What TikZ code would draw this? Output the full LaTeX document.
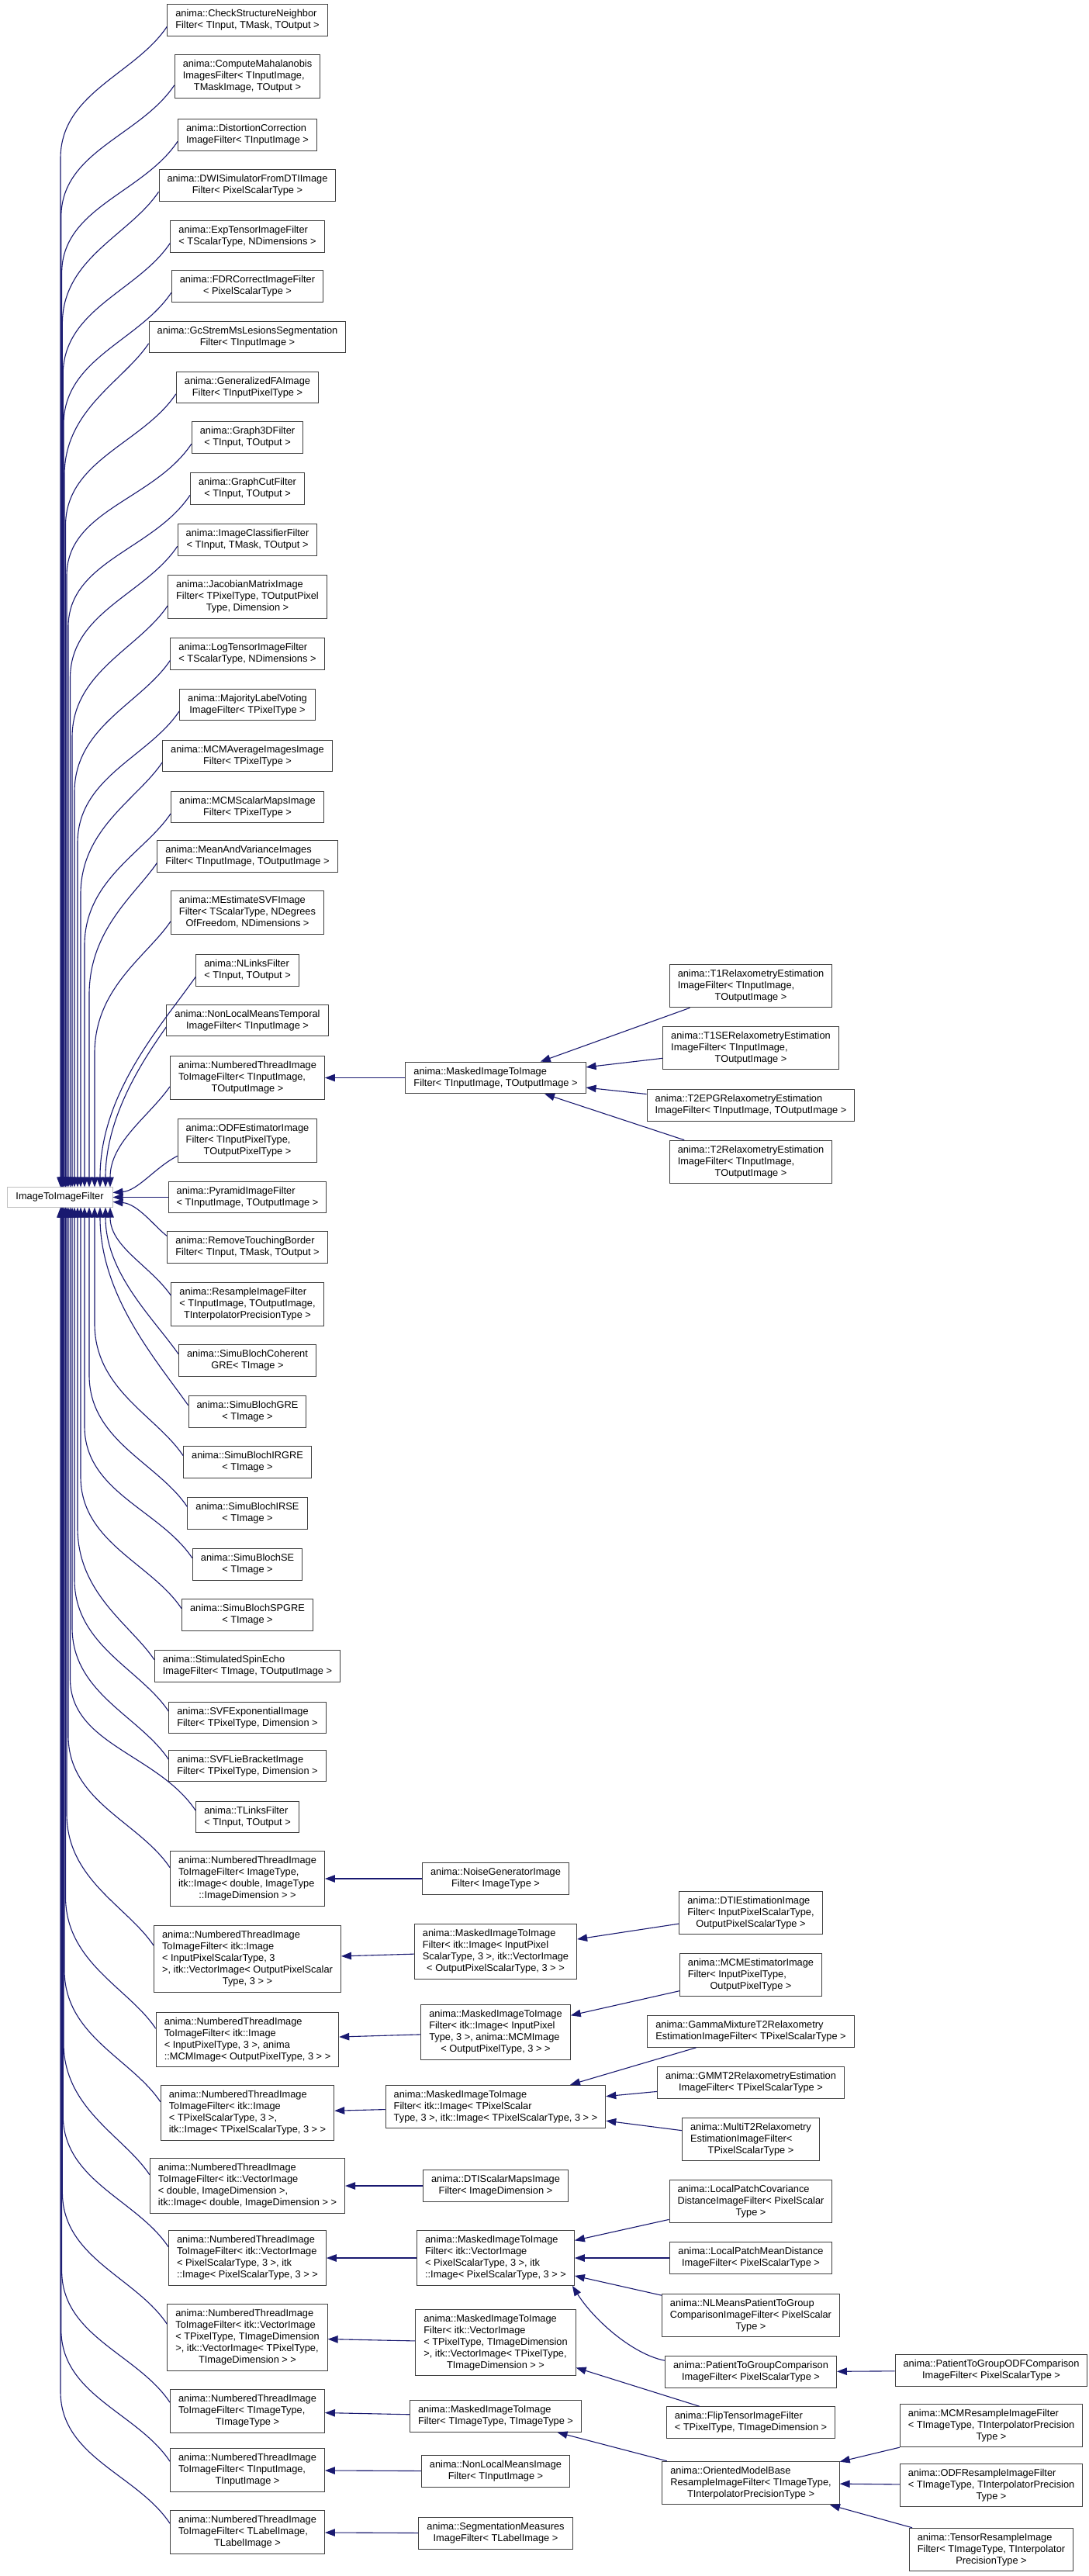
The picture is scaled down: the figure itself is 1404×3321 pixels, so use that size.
\documentclass[tikz,border=0pt]{standalone}
\usepackage{fontspec}
\setmainfont{Liberation Sans}
\usetikzlibrary{arrows.meta,calc}
\definecolor{edgec}{HTML}{191970}
\definecolor{boxc}{HTML}{404040}
\definecolor{rootc}{HTML}{BFBFBF}
\newcommand{\nodefont}{\fontsize{12.8pt}{15pt}\selectfont}
\newcommand{\lab}[2]{\begin{tabular}{@{}l@{}}#1\\\multicolumn{1}{@{}c@{}}{#2}\end{tabular}}
\tikzset{
 box/.style={draw=boxc, line width=1pt, fill=white, inner xsep=10.5pt, inner ysep=5.3pt, font=\nodefont},
 rootbox/.style={box, draw=rootc, minimum width=136pt, minimum height=26pt},
 inh/.style={draw=edgec, line width=1.1pt, {Triangle[length=13pt,width=9.5pt]}-}
}
\newcommand{\upnear}[2]{\draw[inh] let \p1=($(#1.west)!0.4!(#1.south west)$), \p2=(#2,1530.5), \n1={\x1-\x2}, \n2={\y1-\y2} in (\p2) .. controls (\x2,{\y2+0.45*\n2}) and ({\x1-0.35*\n1},{\y1-0.5*min(\n1,\n2)}) .. (\p1);}
\newcommand{\upfar}[2]{\draw[inh] let \p1=($(#1.west)!0.4!(#1.south west)$), \p2=(#2,1530.5), \n1={\x1-\x2} in (\p2) -- (\x2,{\y1-170pt}) .. controls (\x2,{\y1-85pt}) and ({\x1-0.3*\n1},{\y1-0.45*\n1}) .. (\p1);}
\newcommand{\downnear}[2]{\draw[inh] let \p1=($(#1.west)!0.4!(#1.north west)$), \p2=(#2,1556.5), \n1={\x1-\x2}, \n2={\y2-\y1} in (\p2) .. controls (\x2,{\y2-0.45*\n2}) and ({\x1-0.35*\n1},{\y1+0.5*min(\n1,\n2)}) .. (\p1);}
\newcommand{\downfar}[2]{\draw[inh] let \p1=($(#1.west)!0.4!(#1.north west)$), \p2=(#2,1556.5), \n1={\x1-\x2} in (\p2) -- (\x2,{\y1+170pt}) .. controls (\x2,{\y1+85pt}) and ({\x1-0.3*\n1},{\y1+0.45*\n1}) .. (\p1);}
\begin{document}
\begin{tikzpicture}[x=1pt,y=-1pt]
\useasboundingbox (0,0) rectangle (1404,3321);
\fill[white] (0,0) rectangle (1404,3321);
% root
\node[rootbox] (root) at (77,1543.5) {ImageToImageFilter};
% column 2
\node[box] (c1) at (319,26) {\lab{anima::CheckStructureNeighbor}{Filter< TInput, TMask, TOutput >}};
\node[box] (c2) at (319,98.5) {\lab{anima::ComputeMahalanobis\\ImagesFilter< TInputImage,}{TMaskImage, TOutput >}};
\node[box] (c3) at (319,174) {\lab{anima::DistortionCorrection}{ImageFilter< TInputImage >}};
\node[box] (c4) at (319,239) {\lab{anima::DWISimulatorFromDTIImage}{Filter< PixelScalarType >}};
\node[box] (c5) at (319,305) {\lab{anima::ExpTensorImageFilter}{< TScalarType, NDimensions >}};
\node[box] (c6) at (319,369) {\lab{anima::FDRCorrectImageFilter}{< PixelScalarType >}};
\node[box] (c7) at (319,434.5) {\lab{anima::GcStremMsLesionsSegmentation}{Filter< TInputImage >}};
\node[box] (c8) at (319,499.5) {\lab{anima::GeneralizedFAImage}{Filter< TInputPixelType >}};
\node[box] (c9) at (319,564) {\lab{anima::Graph3DFilter}{< TInput, TOutput >}};
\node[box] (c10) at (319,630) {\lab{anima::GraphCutFilter}{< TInput, TOutput >}};
\node[box] (c11) at (319,696) {\lab{anima::ImageClassifierFilter}{< TInput, TMask, TOutput >}};
\node[box] (c12) at (319,769.5) {\lab{anima::JacobianMatrixImage\\Filter< TPixelType, TOutputPixel}{Type, Dimension >}};
\node[box] (c13) at (319,843) {\lab{anima::LogTensorImageFilter}{< TScalarType, NDimensions >}};
\node[box] (c14) at (319,908.5) {\lab{anima::MajorityLabelVoting}{ImageFilter< TPixelType >}};
\node[box] (c15) at (319,974.5) {\lab{anima::MCMAverageImagesImage}{Filter< TPixelType >}};
\node[box] (c16) at (319,1040.5) {\lab{anima::MCMScalarMapsImage}{Filter< TPixelType >}};
\node[box] (c17) at (319,1104) {\lab{anima::MeanAndVarianceImages}{Filter< TInputImage, TOutputImage >}};
\node[box] (c18) at (319,1176.5) {\lab{anima::MEstimateSVFImage\\Filter< TScalarType, NDegrees}{OfFreedom, NDimensions >}};
\node[box] (c19) at (319,1251) {\lab{anima::NLinksFilter}{< TInput, TOutput >}};
\node[box] (c20) at (319,1315.5) {\lab{anima::NonLocalMeansTemporal}{ImageFilter< TInputImage >}};
\node[box] (c21) at (319,1389.5) {\lab{anima::NumberedThreadImage\\ToImageFilter< TInputImage,}{TOutputImage >}};
\node[box] (c22) at (319,1470.5) {\lab{anima::ODFEstimatorImage\\Filter< TInputPixelType,}{TOutputPixelType >}};
\node[box] (c23) at (319,1543.5) {\lab{anima::PyramidImageFilter}{< TInputImage, TOutputImage >}};
\node[box] (c24) at (319,1608) {\lab{anima::RemoveTouchingBorder}{Filter< TInput, TMask, TOutput >}};
\node[box] (c25) at (319,1681.5) {\lab{anima::ResampleImageFilter\\< TInputImage, TOutputImage,}{TInterpolatorPrecisionType >}};
\node[box] (c26) at (319,1754) {\lab{anima::SimuBlochCoherent}{GRE< TImage >}};
\node[box] (c27) at (319,1820) {\lab{anima::SimuBlochGRE}{< TImage >}};
\node[box] (c28) at (319,1885) {\lab{anima::SimuBlochIRGRE}{< TImage >}};
\node[box] (c29) at (319,1951) {\lab{anima::SimuBlochIRSE}{< TImage >}};
\node[box] (c30) at (319,2017) {\lab{anima::SimuBlochSE}{< TImage >}};
\node[box] (c31) at (319,2082) {\lab{anima::SimuBlochSPGRE}{< TImage >}};
\node[box] (c32) at (319,2148) {\lab{anima::StimulatedSpinEcho}{ImageFilter< TImage, TOutputImage >}};
\node[box] (c33) at (319,2214.5) {\lab{anima::SVFExponentialImage}{Filter< TPixelType, Dimension >}};
\node[box] (c34) at (319,2276.5) {\lab{anima::SVFLieBracketImage}{Filter< TPixelType, Dimension >}};
\node[box] (c35) at (319,2342.5) {\lab{anima::TLinksFilter}{< TInput, TOutput >}};
\node[box] (c36) at (319,2422) {\lab{anima::NumberedThreadImage\\ToImageFilter< ImageType,\\itk::Image< double, ImageType}{::ImageDimension > >}};
\node[box] (c37) at (319,2525.5) {\lab{anima::NumberedThreadImage\\ToImageFilter< itk::Image\\< InputPixelScalarType, 3\\ >, itk::VectorImage< OutputPixelScalar}{Type, 3 > >}};
\node[box] (c38) at (319,2629.5) {\lab{anima::NumberedThreadImage\\ToImageFilter< itk::Image\\< InputPixelType, 3 >, anima}{::MCMImage< OutputPixelType, 3 > >}};
\node[box] (c39) at (319,2724) {\lab{anima::NumberedThreadImage\\ToImageFilter< itk::Image\\< TPixelScalarType, 3 >,}{itk::Image< TPixelScalarType, 3 > >}};
\node[box] (c40) at (319,2818) {\lab{anima::NumberedThreadImage\\ToImageFilter< itk::VectorImage\\< double, ImageDimension >,}{itk::Image< double, ImageDimension > >}};
\node[box] (c41) at (319,2911) {\lab{anima::NumberedThreadImage\\ToImageFilter< itk::VectorImage\\< PixelScalarType, 3 >, itk}{::Image< PixelScalarType, 3 > >}};
\node[box] (c42) at (319,3013.5) {\lab{anima::NumberedThreadImage\\ToImageFilter< itk::VectorImage\\< TPixelType, TImageDimension\\ >, itk::VectorImage< TPixelType,}{TImageDimension > >}};
\node[box] (c43) at (319,3108.5) {\lab{anima::NumberedThreadImage\\ToImageFilter< TImageType,}{TImageType >}};
\node[box] (c44) at (319,3184.5) {\lab{anima::NumberedThreadImage\\ToImageFilter< TInputImage,}{TInputImage >}};
\node[box] (c45) at (319,3264.5) {\lab{anima::NumberedThreadImage\\ToImageFilter< TLabelImage,}{TLabelImage >}};
% column 3
\node[box] (m1) at (639,1389.5) {\lab{anima::MaskedImageToImage}{Filter< TInputImage, TOutputImage >}};
\node[box] (noise) at (639,2422) {\lab{anima::NoiseGeneratorImage}{Filter< ImageType >}};
\node[box] (m2) at (639,2516) {\lab{anima::MaskedImageToImage\\Filter< itk::Image< InputPixel\\ScalarType, 3 >, itk::VectorImage}{< OutputPixelScalarType, 3 > >}};
\node[box] (m3) at (639,2620) {\lab{anima::MaskedImageToImage\\Filter< itk::Image< InputPixel\\Type, 3 >, anima::MCMImage}{< OutputPixelType, 3 > >}};
\node[box] (m4) at (639,2716) {\lab{anima::MaskedImageToImage\\Filter< itk::Image< TPixelScalar}{Type, 3 >, itk::Image< TPixelScalarType, 3 > >}};
\node[box] (dtism) at (639,2818) {\lab{anima::DTIScalarMapsImage}{Filter< ImageDimension >}};
\node[box] (m5) at (639,2911) {\lab{anima::MaskedImageToImage\\Filter< itk::VectorImage\\< PixelScalarType, 3 >, itk}{::Image< PixelScalarType, 3 > >}};
\node[box] (m6) at (639,3020) {\lab{anima::MaskedImageToImage\\Filter< itk::VectorImage\\< TPixelType, TImageDimension\\ >, itk::VectorImage< TPixelType,}{TImageDimension > >}};
\node[box] (m7) at (639,3115) {\lab{anima::MaskedImageToImage}{Filter< TImageType, TImageType >}};
\node[box] (nlm) at (639,3186) {\lab{anima::NonLocalMeansImage}{Filter< TInputImage >}};
\node[box] (seg) at (639,3266) {\lab{anima::SegmentationMeasures}{ImageFilter< TLabelImage >}};
% column 4
\node[box] (t1) at (968,1271) {\lab{anima::T1RelaxometryEstimation\\ImageFilter< TInputImage,}{TOutputImage >}};
\node[box] (t1se) at (968,1351) {\lab{anima::T1SERelaxometryEstimation\\ImageFilter< TInputImage,}{TOutputImage >}};
\node[box] (t2epg) at (968,1425) {\lab{anima::T2EPGRelaxometryEstimation}{ImageFilter< TInputImage, TOutputImage >}};
\node[box] (t2) at (968,1498) {\lab{anima::T2RelaxometryEstimation\\ImageFilter< TInputImage,}{TOutputImage >}};
\node[box] (dtie) at (968,2466) {\lab{anima::DTIEstimationImage\\Filter< InputPixelScalarType,}{OutputPixelScalarType >}};
\node[box] (mcme) at (968,2546) {\lab{anima::MCMEstimatorImage\\Filter< InputPixelType,}{OutputPixelType >}};
\node[box] (gamma) at (968,2619) {\lab{anima::GammaMixtureT2Relaxometry}{EstimationImageFilter< TPixelScalarType >}};
\node[box] (gmm) at (968,2685) {\lab{anima::GMMT2RelaxometryEstimation}{ImageFilter< TPixelScalarType >}};
\node[box] (multi) at (968,2758) {\lab{anima::MultiT2Relaxometry\\EstimationImageFilter<}{TPixelScalarType >}};
\node[box] (lpc) at (968,2838) {\lab{anima::LocalPatchCovariance\\DistanceImageFilter< PixelScalar}{Type >}};
\node[box] (lpm) at (968,2911) {\lab{anima::LocalPatchMeanDistance}{ImageFilter< PixelScalarType >}};
\node[box] (nlmp) at (968,2985) {\lab{anima::NLMeansPatientToGroup\\ComparisonImageFilter< PixelScalar}{Type >}};
\node[box] (ptgc) at (968,3058) {\lab{anima::PatientToGroupComparison}{ImageFilter< PixelScalarType >}};
\node[box] (flip) at (968,3123) {\lab{anima::FlipTensorImageFilter}{< TPixelType, TImageDimension >}};
\node[box] (omb) at (968,3201) {\lab{anima::OrientedModelBase\\ResampleImageFilter< TImageType,}{TInterpolatorPrecisionType >}};
% column 5
\node[box] (ptgodf) at (1278,3056) {\lab{anima::PatientToGroupODFComparison}{ImageFilter< PixelScalarType >}};
\node[box] (mcmr) at (1278,3127) {\lab{anima::MCMResampleImageFilter\\< TImageType, TInterpolatorPrecision}{Type >}};
\node[box] (odfr) at (1278,3204) {\lab{anima::ODFResampleImageFilter\\< TImageType, TInterpolatorPrecision}{Type >}};
\node[box] (tensr) at (1278,3287) {\lab{anima::TensorResampleImage\\Filter< TImageType, TInterpolator}{PrecisionType >}};
% edges to root (upper children)
\draw[inh] ([yshift=6pt]root.east) .. controls (178,1535) and (200,1505) .. ($(c22.west)!0.7!(c22.south west)$);
\upnear{c21}{142}
\upnear{c20}{136}
\upnear{c19}{129}
\upfar{c18}{122}
\upfar{c17}{115}
\upfar{c16}{109}
\upfar{c15}{104}
\upfar{c14}{100}
\upfar{c13}{96}
\upfar{c12}{93}
\upfar{c11}{90.5}
\upfar{c10}{88}
\upfar{c9}{86}
\upfar{c8}{84.5}
\upfar{c7}{83}
\upfar{c6}{82}
\upfar{c5}{81.2}
\upfar{c4}{80.4}
\upfar{c3}{79.6}
\upfar{c2}{78.8}
\upfar{c1}{78}
\draw[inh] (root) -- (c23);
% edges to root (lower children)
\draw[inh] ([yshift=-6pt]root.east) .. controls (178,1552) and (200,1582) .. ($(c24.west)!0.7!(c24.north west)$);
\downnear{c25}{142}
\downnear{c26}{136}
\downnear{c27}{129}
\downfar{c28}{122}
\downfar{c29}{115}
\downfar{c30}{109}
\downfar{c31}{104}
\downfar{c32}{100}
\downfar{c33}{96}
\downfar{c34}{93}
\downfar{c35}{90.5}
\downfar{c36}{88}
\downfar{c37}{86}
\downfar{c38}{84.5}
\downfar{c39}{83}
\downfar{c40}{82}
\downfar{c41}{81.2}
\downfar{c42}{80.4}
\downfar{c43}{79.6}
\downfar{c44}{78.8}
\downfar{c45}{78}
% column 3 -> column 2
\draw[inh] (c21) -- (m1);
\draw[inh] (c36) -- (noise);
\draw[inh] (c37) -- (m2);
\draw[inh] (c38) -- (m3);
\draw[inh] (c39) -- (m4);
\draw[inh] (c40) -- (dtism);
\draw[inh] (c41) -- (m5);
\draw[inh] (c42) -- (m6);
\draw[inh] (c43) -- (m7);
\draw[inh] (c44) -- (nlm);
\draw[inh] (c45) -- (seg);
% column 4 -> column 3
\draw[inh] (m1) -- (t1);
\draw[inh] (m1) -- (t1se);
\draw[inh] (m1) -- (t2epg);
\draw[inh] (m1) -- (t2);
\draw[inh] (m2) -- (dtie);
\draw[inh] (m3) -- (mcme);
\draw[inh] (m4) -- (gamma);
\draw[inh] (m4) -- (gmm);
\draw[inh] (m4) -- (multi);
\draw[inh] (m5) -- (lpc);
\draw[inh] (m5) -- (lpm);
\draw[inh] (m5) -- (nlmp);
\draw[inh] ([xshift=-3pt]m5.south east) .. controls (765,2990) and (815,3035) .. ([yshift=-6pt]ptgc.north west);
\draw[inh] (m6) -- (flip);
\draw[inh] (m7) -- (omb);
% column 5 -> column 4
\draw[inh] (ptgc) -- (ptgodf);
\draw[inh] (omb) -- (mcmr);
\draw[inh] (omb) -- (odfr);
\draw[inh] (omb) -- (tensr);
\end{tikzpicture}
\end{document}
